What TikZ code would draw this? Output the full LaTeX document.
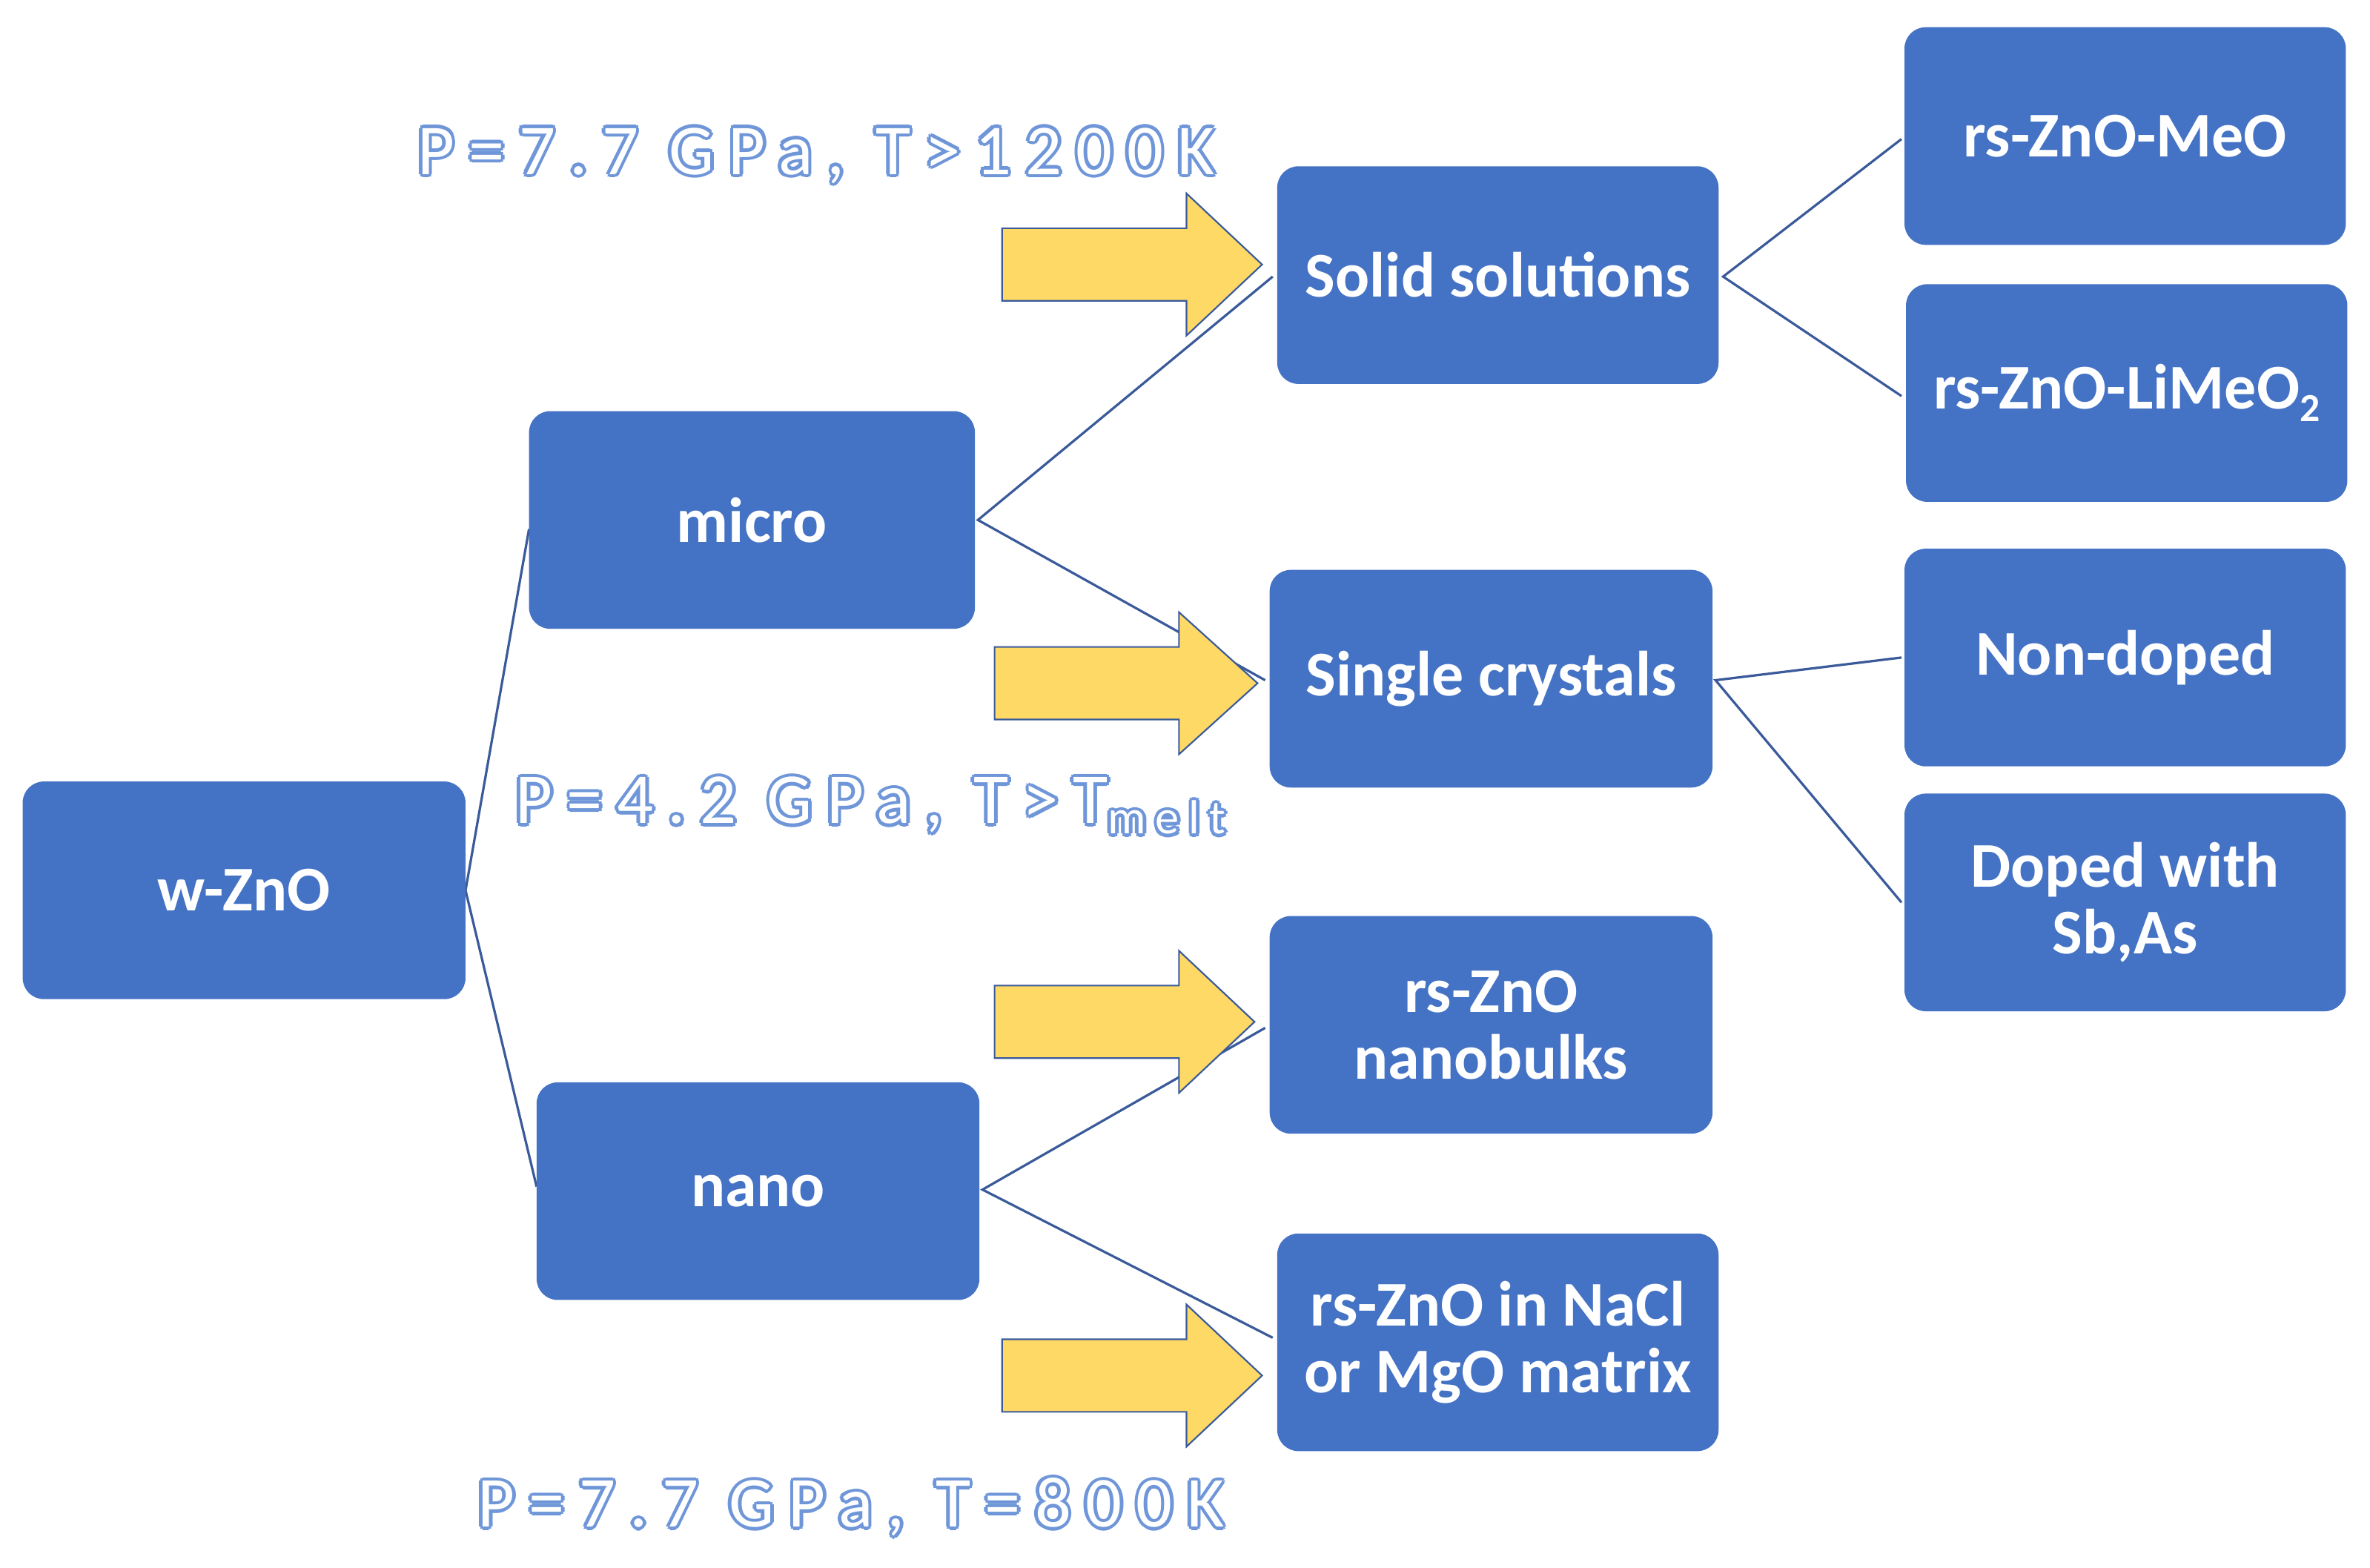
\documentclass[tikz,border=0pt]{standalone}
\usepackage{fontspec}
\setmainfont{Carlito}
\newfontfamily\spc{Carlito}[LetterSpace=20]
\definecolor{bx}{HTML}{4472C4}
\definecolor{ln}{HTML}{3A5A9A}
\definecolor{yl}{HTML}{FFD966}
\definecolor{ol}{HTML}{6F96D8}
\begin{document}
\begin{tikzpicture}[x=0.02cm,y=-0.02cm,
  box/.style={fill=bx,rounded corners=8pt,text=white,font=\fontsize{24}{26}\selectfont\bfseries,align=center},
  con/.style={draw=ln,line width=0.9pt},
  yarr/.style={fill=yl,draw=ln,line width=0.6pt}]
\useasboundingbox (0,0) rectangle (1568,1037);
\newcommand\mkbox[5]{\fill[bx,rounded corners=8pt] (#1,#3) rectangle (#2,#4);
  \node[box] at ({(#1+#2)/2},{(#3+#4)/2}) {#5};}
\newcommand\yarrow[4]{% x0, xb, tip x, center y
  \draw[yarr] (#1,#4-24) -- (#2,#4-24) -- (#2,#4-47) -- (#3,#4) -- (#2,#4+47) -- (#2,#4+24) -- (#1,#4+24) -- cycle;}
\newcommand\sbs[1]{\raisebox{-0.3ex}{\fontsize{18}{20}\spc #1}}
\newcommand\outl[3]{%
  \foreach \dx/\dy in {-1.3/0,1.3/0,0/-1.3,0/1.3,-0.9/-0.9,0.9/0.9,-0.9/0.9,0.9/-0.9}
    \node[text=ol,font=\fontsize{27}{30}\spc] at ([shift={(\dx pt,\dy pt)}]#1,#2) {#3};
  \node[text=white,font=\fontsize{27}{30}\spc] at (#1,#2) {#3};}
% connectors
\coordinate (w) at (308,589); \coordinate (mi) at (350,350); \coordinate (na) at (355,785);
\draw[con] (mi) -- (w) -- (na);
\coordinate (mr) at (647,344); \coordinate (ss) at (842,183); \coordinate (sc) at (837,450);
\draw[con] (ss) -- (mr) -- (sc);
\coordinate (nr) at (650,787); \coordinate (nb) at (837,680); \coordinate (nm) at (842,885);
\draw[con] (nb) -- (nr) -- (nm);
\coordinate (sr) at (1140,183); \coordinate (a1) at (1258,92); \coordinate (a2) at (1258,262);
\draw[con] (a1) -- (sr) -- (a2);
\coordinate (cr) at (1135,450); \coordinate (b1) at (1258,435); \coordinate (b2) at (1258,597);
\draw[con] (b1) -- (cr) -- (b2);
% boxes
\mkbox{15}{308}{517}{661}{w-ZnO}
\mkbox{350}{645}{272}{416}{micro}
\mkbox{355}{648}{716}{860}{nano}
\mkbox{845}{1137}{110}{254}{Solid solutions}
\mkbox{840}{1133}{377}{521}{Single crystals}
\mkbox{840}{1133}{606}{750}{rs-ZnO\\[-1pt]nanobulks}
\mkbox{845}{1137}{816}{960}{rs-ZnO in NaCl\\[-1pt]or MgO matrix}
\mkbox{1260}{1552}{18}{162}{rs-ZnO-MeO}
\mkbox{1261}{1553}{188}{332}{rs-ZnO-LiMeO\raisebox{-0.4ex}{\fontsize{15}{16}\selectfont\bfseries 2}}
\mkbox{1260}{1552}{363}{507}{Non-doped}
\mkbox{1260}{1552}{525}{669}{Doped with\\[-1pt]Sb,As}
% arrows
\yarrow{663}{785}{835}{175}
\yarrow{658}{780}{832}{452}
\yarrow{658}{780}{830}{676}
\yarrow{663}{785}{835}{910}
% labels
\outl{540}{103}{P=7.7 GPa, T>1200K}
\outl{576}{533}{P=4.2 GPa, T>T\sbs{melt}}
\outl{563}{997}{P=7.7 GPa, T=800K}
\end{tikzpicture}
\end{document}
